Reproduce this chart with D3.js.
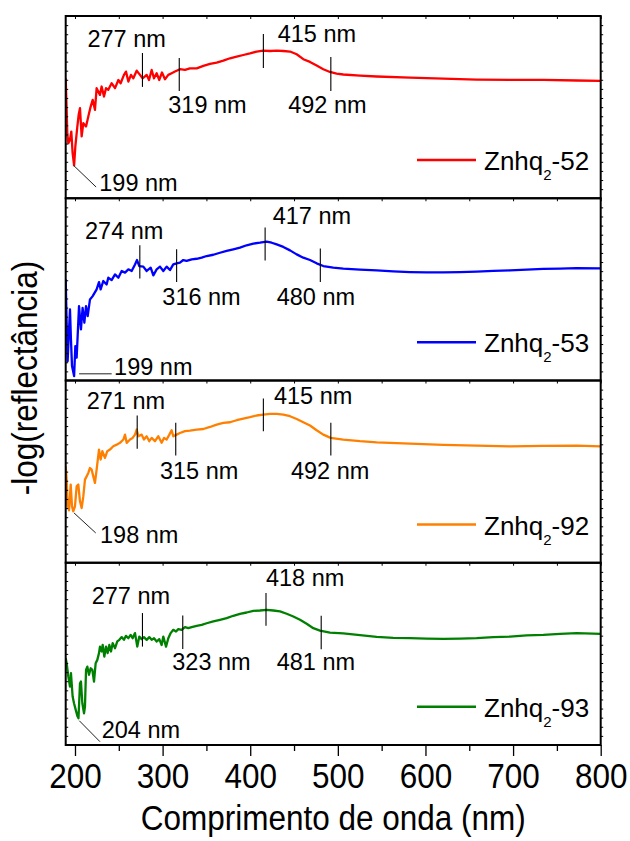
<!DOCTYPE html>
<html>
<head>
<meta charset="utf-8">
<script src="https://cdn.jsdelivr.net/npm/d3@7"></script>
<style>
  body { margin: 0; background: #fff; }
  text { font-family: "Liberation Sans", Arial, Helvetica, sans-serif; fill: #000; }
</style>
</head>
<body>
<svg id="chart" width="630" height="841"></svg>
<script>
// ---- Diffuse-reflectance spectra: [wavelength (nm), -log(R) (a.u.)] ----
const spectrum52 = [
  [189.4,0.658],[190.5,0.485],[191.2,0.357],[192.4,0.302],[194.3,0.321],[195.8,0.366],[197.3,0.247],
  [199,0.180],[200.4,0.284],[202.7,0.394],[204.2,0.458],[205.7,0.494],[207.6,0.339],[209.5,0.412],
  [212.6,0.394],[215.2,0.448],[217.9,0.503],[220.2,0.540],[222.8,0.485],[224.7,0.604],[228.5,0.567],
  [230.4,0.613],[233.1,0.558],[235.4,0.604],[238.0,0.595],[241.8,0.631],[245.7,0.604],[249.5,0.649],
  [252.1,0.631],[255.9,0.677],[258.2,0.695],[260.9,0.640],[263.9,0.677],[266.6,0.658],[270.4,0.700],
  [274.2,0.677],[277.2,0.658],[281.8,0.677],[284.5,0.649],[287.5,0.704],[290.2,0.658],[293.2,0.686],
  [296.2,0.649],[299.3,0.690],[302.7,0.653],[306.5,0.677],[310.3,0.686],[314.1,0.695],[319.8,0.708],
  [325.5,0.704],[331.2,0.713],[338.9,0.713],[346.5,0.726],[354.1,0.737],[361.7,0.744],[369.3,0.755],
  [376.9,0.768],[384.5,0.777],[392.1,0.786],[399.7,0.795],[407.3,0.805],[414.9,0.810],[422.6,0.808],
  [430.2,0.810],[437.8,0.808],[445.4,0.805],[453.0,0.790],[460.6,0.763],[468.2,0.748],[475.8,0.728],
  [483.4,0.708],[491.0,0.693],[498.6,0.684],[506.2,0.679],[525.3,0.673],[544.3,0.668],[582.3,0.662],
  [620.4,0.656],[658.4,0.651],[696.5,0.650],[734.5,0.649],[772.6,0.646],[800,0.644]
];
const spectrum53 = [
  [189.4,0.555],[190.5,0.317],[191.6,0.106],[193.2,0.280],[194.3,0.390],[195.4,0.225],[196.6,0.079],
  [199,0.024],[200.4,0.189],[201.9,0.125],[204.6,0.408],[206.8,0.280],[208.7,0.399],[210.7,0.317],
  [212.6,0.408],[214.5,0.353],[217.1,0.445],[220.2,0.463],[224.7,0.500],[227.4,0.540],[229.3,0.500],
  [232.3,0.546],[236.1,0.527],[238.0,0.564],[241.8,0.551],[245.7,0.582],[249.5,0.564],[253.3,0.601],
  [257.1,0.592],[260.9,0.610],[264.7,0.601],[268.5,0.637],[270.8,0.661],[273.4,0.628],[278.0,0.625],
  [281.8,0.601],[286.4,0.619],[289.4,0.577],[293.2,0.610],[297.0,0.625],[300.8,0.601],[304.6,0.625],
  [308.4,0.606],[312.2,0.637],[316.0,0.643],[319.8,0.647],[323.6,0.661],[327.4,0.656],[333.2,0.665],
  [338.9,0.668],[344.6,0.674],[350.3,0.683],[357.9,0.690],[365.5,0.701],[373.1,0.711],[380.7,0.720],
  [388.3,0.729],[395.9,0.742],[403.5,0.751],[411.1,0.756],[418.7,0.762],[424.5,0.756],[430.2,0.747],
  [437.8,0.733],[445.4,0.714],[453.0,0.692],[460.6,0.674],[468.2,0.661],[475.8,0.643],[483.4,0.628],
  [494.8,0.619],[506.2,0.614],[525.3,0.608],[544.3,0.604],[563.3,0.599],[582.3,0.595],[601.4,0.593],
  [620.4,0.593],[639.4,0.595],[658.4,0.597],[677.5,0.601],[696.5,0.604],[715.5,0.608],[734.5,0.612],
  [753.6,0.614],[772.6,0.617],[800,0.615]
];
const spectrum92 = [
  [189.4,0.529],[190.5,0.456],[191.6,0.319],[193.2,0.288],[195.1,0.429],[196.6,0.310],[198,0.282],
  [200.0,0.310],[201.9,0.419],[203.8,0.429],[205.7,0.337],[207.6,0.300],[209.5,0.364],[211.4,0.456],
  [213.3,0.474],[215.2,0.493],[217.1,0.520],[219.0,0.511],[220.9,0.474],[222.8,0.438],[224.7,0.511],
  [227.4,0.621],[229.3,0.566],[231.2,0.612],[234.2,0.575],[236.9,0.612],[239.9,0.621],[243.7,0.639],
  [247.6,0.648],[251.4,0.658],[255.2,0.676],[257.1,0.703],[259.0,0.658],[262.8,0.676],[265.8,0.685],
  [268.5,0.703],[270.4,0.731],[272.3,0.694],[276.1,0.703],[278.7,0.676],[281.8,0.694],[284.8,0.667],
  [287.5,0.685],[291.3,0.667],[295.1,0.694],[298.9,0.658],[301.6,0.685],[304.6,0.676],[307.7,0.703],
  [310.3,0.727],[312.2,0.694],[316.0,0.703],[319.8,0.712],[325.5,0.722],[331.2,0.725],[338.9,0.731],
  [346.5,0.734],[354.1,0.745],[361.7,0.758],[369.3,0.767],[376.9,0.771],[384.5,0.782],[392.1,0.791],
  [399.7,0.799],[407.3,0.808],[414.9,0.813],[422.6,0.817],[430.2,0.817],[437.8,0.813],[445.4,0.804],
  [453.0,0.789],[460.6,0.771],[468.2,0.753],[475.8,0.727],[483.4,0.703],[491.8,0.685],[506.2,0.676],
  [525.3,0.667],[544.3,0.661],[582.3,0.654],[620.4,0.647],[658.4,0.643],[696.5,0.639],[734.5,0.641],
  [772.6,0.643],[800,0.639]
];
const spectrum93 = [
  [189.4,0.476],[190.5,0.449],[192.4,0.375],[194.3,0.321],[195.4,0.394],[197.3,0.266],[198.9,0.229],
  [200.4,0.201],[202.7,0.159],[204,0.147],[205.7,0.339],[206.8,0.348],[208.4,0.229],[210.3,0.174],
  [211.4,0.211],[212.6,0.412],[214.1,0.430],[216.0,0.385],[217.9,0.421],[219.8,0.412],[221.7,0.348],
  [223.6,0.449],[225.5,0.467],[227.4,0.504],[228.5,0.540],[230.4,0.513],[231.6,0.549],[233.5,0.485],
  [235.4,0.540],[237.3,0.504],[239.2,0.549],[241.1,0.513],[243.0,0.559],[245.7,0.531],[248.3,0.568],
  [250.6,0.577],[253.3,0.592],[255.9,0.577],[258.2,0.599],[260.9,0.586],[263.5,0.604],[265.8,0.586],
  [268.5,0.614],[271.1,0.540],[273.4,0.595],[276.1,0.581],[278.7,0.592],[281.8,0.577],[284.8,0.592],
  [287.5,0.577],[290.2,0.586],[293.2,0.568],[296.2,0.581],[298.9,0.549],[300.8,0.595],[303.9,0.540],
  [306.5,0.586],[309.2,0.614],[312.2,0.632],[315.3,0.623],[317.9,0.636],[321.7,0.632],[325.5,0.647],
  [329.3,0.641],[333.2,0.647],[338.9,0.654],[344.6,0.659],[350.3,0.668],[357.9,0.678],[365.5,0.687],
  [373.1,0.696],[380.7,0.709],[388.3,0.720],[395.9,0.727],[403.5,0.736],[411.1,0.738],[418.7,0.742],
  [426.4,0.738],[434.0,0.733],[441.6,0.720],[449.2,0.705],[456.8,0.687],[464.4,0.665],[472.0,0.641],
  [479.6,0.628],[491.0,0.617],[506.2,0.612],[525.3,0.603],[544.3,0.593],[563.3,0.588],[582.3,0.586],
  [601.4,0.584],[620.4,0.582],[639.4,0.584],[658.4,0.586],[677.5,0.592],[696.5,0.595],[715.5,0.601],
  [734.5,0.604],[753.6,0.610],[772.6,0.614],[800,0.610]
];

// ---- Sample names ----
const sampleCodes = ["52", "53", "92", "93"];

// ---- Marked band positions (nm) and the value span of each marker ----
const bands52 = [277, 319, 415, 492];
const bandHi52 = [0.797, 0.770, 0.901, 0.775];
const bandLo52 = [0.611, 0.589, 0.715, 0.589];
const bands53 = [274, 316, 417, 480];
const bandHi53 = [0.742, 0.720, 0.839, 0.724];
const bandLo53 = [0.559, 0.540, 0.659, 0.540];
const bands92 = [271, 315, 415, 492];
const bandHi92 = [0.808, 0.768, 0.901, 0.768];
const bandLo92 = [0.625, 0.588, 0.721, 0.588];
const bands93 = [277, 323, 418, 481];
const bandHi93 = [0.724, 0.710, 0.834, 0.709];
const bandLo93 = [0.540, 0.527, 0.654, 0.526];

// ---- Short-wavelength minimum (nm) ----
const minima = [199, 199, 198, 204];

// ---- Axis ticks ----
const xMajorTicks = [200, 300, 400, 500, 600, 700, 800];
const xMinorTicks = [250, 350, 450, 550, 650, 750];
const xAllTicks = [200, 250, 300, 350, 400, 450, 500, 550, 600, 650, 700, 750, 800];
const yMinorTicks = [0.05,0.1,0.15,0.2,0.25,0.3,0.35,0.4,0.45,0.5,0.55,0.6,0.65,0.7,0.75,0.8,0.85,0.9,0.95];

// ---- Layout / style ----
const M = { left: 65.7, right: 600.7, top: 16, bottom: 745 };
const colors = ["#ff0000", "#0000ff", "#ff8000", "#008000"];
// label placement for each band marker: anchored at marker top ("t") or bottom ("b"), pixel offsets
const bandLabelPlace = [
  [["t",-55,-6.3],["b",-11,21.7],["t",14.3,7.7],["b",-42.6,22.5]],
  [["t",-54.8,-6.7],["b",-14.3,23.3],["t",7.6,-3.3],["b",-43.6,23.3]],
  [["t",-50.5,-6.7],["b",-15.8,23.3],["t",10.6,5.3],["b",-39.9,23.3]],
  [["t",-50.8,-9],["b",-10.5,21],["t",0,-7.3],["b",-44.5,20.7]]
];
// leader line for the minimum: start offset, end offset, label offset (pixels from the curve point)
const minLeader = [
  [[-0.5,0],[22,21.6],[25.2,26]],
  [[5,-2.3],[37.6,-2.3],[40,-1.6]],
  [[0.8,1.6],[22.5,21.6],[26.8,31.6]],
  [[0.8,2.5],[21.5,23.5],[23.2,20.1]]
];

const panels = [
  { code: sampleCodes[0], data: spectrum52, bands: bands52, hi: bandHi52, lo: bandLo52 },
  { code: sampleCodes[1], data: spectrum53, bands: bands53, hi: bandHi53, lo: bandLo53 },
  { code: sampleCodes[2], data: spectrum92, bands: bands92, hi: bandHi92, lo: bandLo92 },
  { code: sampleCodes[3], data: spectrum93, bands: bands93, hi: bandHi93, lo: bandLo93 }
];

const svg = d3.select("#chart");
const panelH = (M.bottom - M.top) / panels.length;
const x = d3.scaleLinear().domain([189.4, 800]).range([M.left, M.right]);
const defs = svg.append("defs");

panels.forEach((p, i) => {
  const y0 = M.top + i * panelH, y1 = y0 + panelH;
  const y = d3.scaleLinear().domain([0, 1]).range([y1, y0]);
  const g = svg.append("g");

  defs.append("clipPath").attr("id", "clip" + i)
    .append("rect").attr("x", M.left).attr("y", y0)
    .attr("width", M.right - M.left).attr("height", panelH);

  // spectrum
  g.append("path").datum(p.data)
    .attr("clip-path", `url(#clip${i})`)
    .attr("fill", "none")
    .attr("stroke", colors[i])
    .attr("stroke-width", 2.3)
    .attr("stroke-linejoin", "round")
    .attr("d", d3.line().x(d => x(d[0])).y(d => y(d[1])));

  // small frame ticks: top (inward), left (inward), right (outward)
  g.append("g").attr("transform", `translate(0,${y0})`)
    .call(d3.axisBottom(x).tickValues(xAllTicks).tickSize(3).tickFormat(""))
    .call(s => s.select(".domain").remove());
  g.append("g").attr("transform", `translate(${M.left},0)`)
    .call(d3.axisRight(y).tickValues(yMinorTicks).tickSize(2.5).tickFormat(""))
    .call(s => s.select(".domain").remove());
  g.append("g").attr("transform", `translate(${M.right},0)`)
    .call(d3.axisRight(y).tickValues(yMinorTicks).tickSize(2.5).tickFormat(""))
    .call(s => s.select(".domain").remove());
  g.selectAll(".tick line").attr("stroke", "#000").attr("stroke-width", 1);

  // panel frame
  g.append("rect").attr("x", M.left).attr("y", y0)
    .attr("width", M.right - M.left).attr("height", panelH)
    .attr("fill", "none").attr("stroke", "#000").attr("stroke-width", 2);

  // band markers with labels
  p.bands.forEach((nm, k) => {
    const bx = x(nm), top = y(p.hi[k]), bot = y(p.lo[k]);
    g.append("line").attr("x1", bx).attr("x2", bx).attr("y1", top).attr("y2", bot)
      .attr("stroke", "#000").attr("stroke-width", 1.1);
    const pl = bandLabelPlace[i][k];
    g.append("text")
      .attr("x", bx + pl[1])
      .attr("y", (pl[0] === "t" ? top : bot) + pl[2])
      .attr("font-size", 23.5)
      .text(`${nm} nm`);
  });

  // minimum with leader line
  const mn = minima[i];
  const pt = p.data.find(d => d[0] === mn);
  const px = x(pt[0]), py = y(pt[1]);
  const ld = minLeader[i];
  g.append("line")
    .attr("x1", px + ld[0][0]).attr("y1", py + ld[0][1])
    .attr("x2", px + ld[1][0]).attr("y2", py + ld[1][1])
    .attr("stroke", "#222").attr("stroke-width", 1);
  g.append("text").attr("x", px + ld[2][0]).attr("y", py + ld[2][1])
    .attr("font-size", 23.5).text(`${mn} nm`);

  // legend
  const ly = y0 + 144;
  g.append("line").attr("x1", 417).attr("x2", 476).attr("y1", ly).attr("y2", ly)
    .attr("stroke", colors[i]).attr("stroke-width", 2.5);
  const t = g.append("text").attr("x", 484).attr("y", ly + 10).attr("font-size", 26);
  t.append("tspan").text("Znhq");
  t.append("tspan").attr("font-size", 15).attr("dy", 10).text("2");
  t.append("tspan").attr("dy", -10).text("-" + p.code);
});

// bottom axis
const ax = svg.append("g").attr("transform", `translate(0,${M.bottom})`);
ax.append("g")
  .call(d3.axisBottom(x).tickValues(xMinorTicks).tickSize(6).tickFormat(""))
  .call(s => s.select(".domain").remove());
const major = ax.append("g")
  .call(d3.axisBottom(x).tickValues(xMajorTicks).tickSize(11).tickFormat(d3.format("d")))
  .call(s => s.select(".domain").remove());
ax.selectAll(".tick line").attr("stroke", "#000").attr("stroke-width", 1.3);
major.selectAll("text")
  .attr("y", 43).attr("dy", 0)
  .attr("font-size", 35)
  .attr("fill", "#000")
  .attr("font-family", '"Liberation Sans", Arial, sans-serif')
  .attr("transform", "scale(0.9,1)");

// axis titles
svg.append("text")
  .attr("transform", `translate(${(M.left + M.right) / 2},830) scale(0.9,1)`)
  .attr("text-anchor", "middle").attr("font-size", 35)
  .text("Comprimento de onda (nm)");
svg.append("text")
  .attr("transform", "translate(37,378) rotate(-90) scale(0.9,1)")
  .attr("text-anchor", "middle").attr("font-size", 35)
  .text("-log(reflectância)");
</script>
</body>
</html>
